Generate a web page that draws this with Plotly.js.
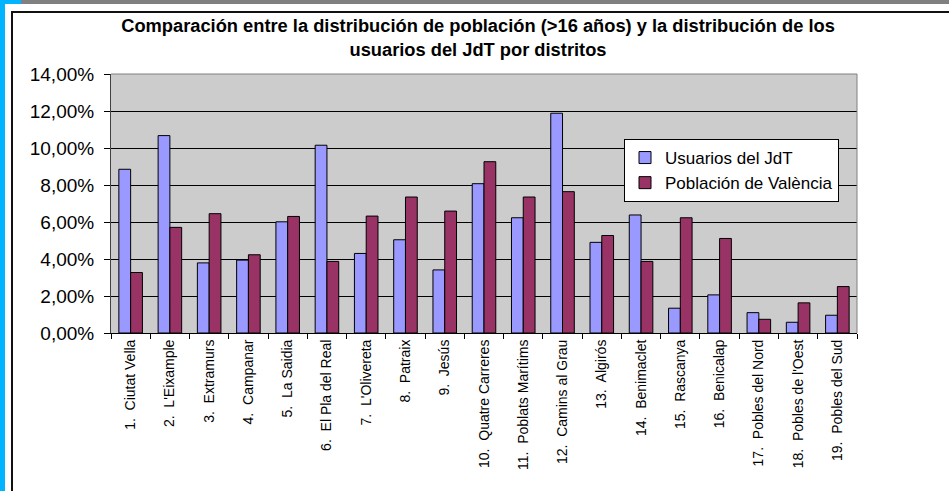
<!DOCTYPE html>
<html>
<head>
<meta charset="utf-8">
<script src="https://cdn.plot.ly/plotly-3.0.1.min.js"></script>
<style>
  html, body { margin: 0; padding: 0; background: #fff; }
  #wrap { position: relative; width: 949px; height: 491px; overflow: hidden; }
  #chart { width: 949px; height: 491px; }
  .deco { position: absolute; pointer-events: none; }
</style>
</head>
<body>
<div id="wrap">
  <div id="chart"></div>
  <div class="deco" style="left:0;top:0;width:5px;height:491px;background:#00b4ff;"></div>
  <div class="deco" style="left:0;top:0;width:21px;height:4px;background:#00b4ff;"></div>
  <div class="deco" style="left:21px;top:0;width:928px;height:4px;background:#808080;"></div>
  <div class="deco" style="left:11px;top:11px;width:2px;height:480px;background:#111;"></div>
  <div class="deco" style="left:11px;top:11px;width:938px;height:2px;background:#111;"></div>
</div>
<script>
const categories = [
  "1. Ciutat Vella", "2. L'Eixample", "3. Extramurs", "4. Campanar", "5. La Saidia",
  "6. El Pla del Real", "7. L'Olivereta", "8. Patraix", "9. Jesús", "10. Quatre Carreres",
  "11. Poblats Marítims", "12. Camins al Grau", "13. Algirós", "14. Benimaclet", "15. Rascanya",
  "16. Benicalap", "17. Pobles del Nord", "18. Pobles de l'Oest", "19. Pobles del Sud"
];
const usuariosJdT = [8.85, 10.67, 3.79, 3.94, 6.01, 10.15, 4.30, 5.04, 3.41, 8.07,
                     6.23, 11.88, 4.90, 6.38, 1.34, 2.06, 1.10, 0.58, 0.96];
const poblacionValencia = [3.27, 5.71, 6.45, 4.23, 6.30, 3.87, 6.32, 7.35, 6.59, 9.26,
                           7.35, 7.64, 5.27, 3.87, 6.23, 5.11, 0.74, 1.63, 2.51];
const yTicks = [0, 2, 4, 6, 8, 10, 12, 14];
const yTickLabels = ["0,00%", "2,00%", "4,00%", "6,00%", "8,00%", "10,00%", "12,00%", "14,00%"];
const titleText = "Comparación entre la distribución de población (>16 años) y la distribución de los<br>usuarios del JdT por distritos";

const tickText = categories.map(c => c.replace('. ', '.\u00a0 '));

const traces = [
  {
    type: 'bar', name: 'Usuarios del JdT', x: categories, y: usuariosJdT,
    marker: { color: '#9999ff', line: { color: '#000', width: 1 } }
  },
  {
    type: 'bar', name: 'Población de València', x: categories, y: poblacionValencia,
    marker: { color: '#993366', line: { color: '#000', width: 1 } }
  }
];

const L = 111, R = 857, T = 74, B = 333;
const layout = {
  width: 949, height: 491,
  margin: { l: L, r: 949 - R, t: T, b: 491 - B, pad: 0 },
  paper_bgcolor: '#ffffff',
  plot_bgcolor: '#cccccc',
  font: { family: 'Liberation Sans, Arial, sans-serif', color: '#000' },
  title: {
    text: titleText,
    font: { size: 18.3, family: 'Liberation Sans, Arial, sans-serif', weight: 'bold', color: '#000' },
    x: 478 / 949, xanchor: 'center', xref: 'container',
    y: 1 - 32 / 491, yanchor: 'middle', yref: 'container'
  },
  barmode: 'group',
  bargap: 0.4,
  bargroupgap: 0,
  showlegend: true,
  legend: {
    x: (624 - L) / (R - L), xanchor: 'left',
    y: (B - 139) / (B - T), yanchor: 'top',
    bgcolor: '#ffffff', bordercolor: '#000', borderwidth: 1,
    font: { size: 17, color: '#000' },
    itemwidth: 30
  },
  xaxis: {
    type: 'category',
    tickvals: categories, ticktext: tickText,
    tickangle: -90,
    tickfont: { size: 14, color: '#000' },
    ticks: 'outside', ticklen: 5, tickcolor: '#000', tickson: 'boundaries',
    showline: true, linecolor: '#000', linewidth: 1,
    showgrid: false, zeroline: false, fixedrange: true
  },
  yaxis: {
    range: [0, 14],
    tickmode: 'array',
    tickvals: yTicks, ticktext: yTickLabels,
    tickfont: { size: 19, color: '#000' },
    ticks: 'outside', ticklen: 6, tickcolor: '#000',
    ticklabelstandoff: 6,
    showline: true, linecolor: '#404040', linewidth: 1,
    showgrid: true, gridcolor: '#000', gridwidth: 1,
    zeroline: false, fixedrange: true
  },
  shapes: [
    { type: 'line', xref: 'paper', yref: 'paper', x0: 0, x1: 1, y0: 1, y1: 1,
      line: { color: '#808080', width: 1 }, layer: 'above' },
    { type: 'line', xref: 'paper', yref: 'paper', x0: 1, x1: 1, y0: 0, y1: 1,
      line: { color: '#808080', width: 1 }, layer: 'above' }
  ]
};

Plotly.newPlot('chart', traces, layout, { displayModeBar: false, staticPlot: true });
</script>
</body>
</html>
